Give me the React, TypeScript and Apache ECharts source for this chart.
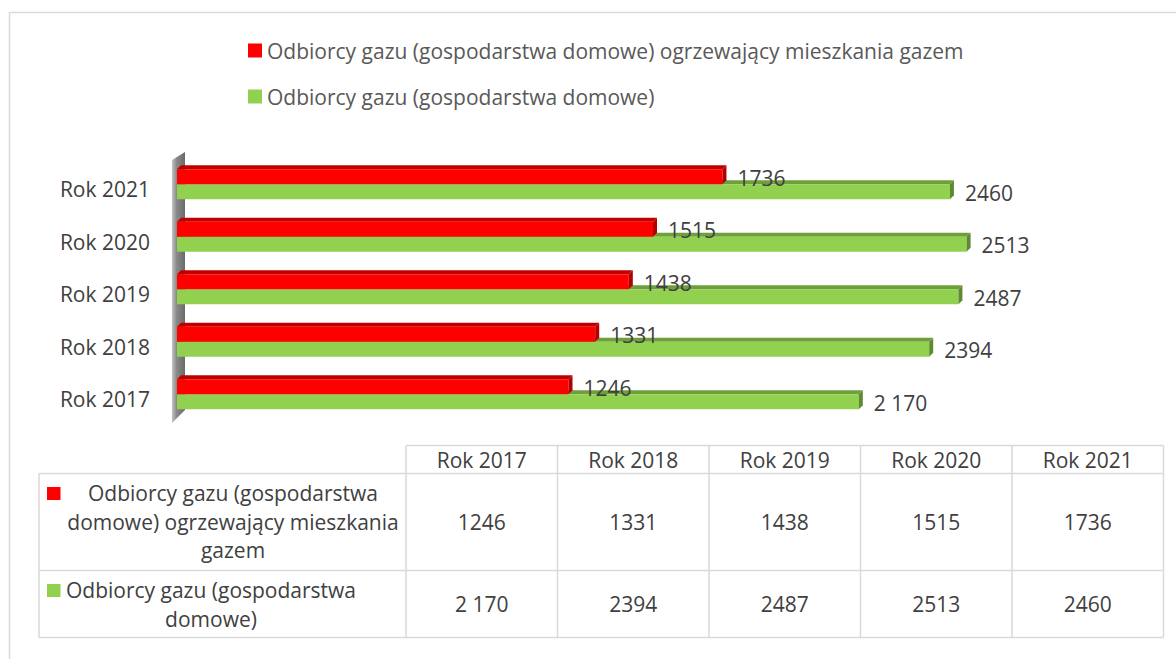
import { useEffect, useRef } from 'react';
import * as echarts from 'echarts';

const categories = ['Rok 2017', 'Rok 2018', 'Rok 2019', 'Rok 2020', 'Rok 2021'];
const heatingName = 'Odbiorcy gazu (gospodarstwa domowe) ogrzewający mieszkania gazem';
const householdName = 'Odbiorcy gazu (gospodarstwa domowe)';
const heatingValues = [1246, 1331, 1438, 1515, 1736];
const householdValues = [2170, 2394, 2487, 2513, 2460];
const heatingLabels = ['1246', '1331', '1438', '1515', '1736'];
const householdLabels = ['2 170', '2394', '2487', '2513', '2460'];
const heatingTableLines = ['Odbiorcy gazu (gospodarstwa', 'domowe) ogrzewający mieszkania', 'gazem'];
const householdTableLines = ['Odbiorcy gazu (gospodarstwa', 'domowe)'];

const FONT = '"Open Sans", "Noto Sans", sans-serif';
const FS = 21;
const TXT = '#404040';
const GRID_LINE = '#d9d9d9';

const RED = { front: '#ff0000', top: '#c00000', side: '#b20000' };
const GREEN = { front: '#92d050', top: '#6f9f3b', side: '#5f8a30' };

function makeRender(colors: any, labels: string[], offTop: number, offBottom: number) {
  return (params: any, api: any) => {
    const idx = api.value(1);
    const val = api.value(0);
    const start = api.coord([0, idx]);
    const end = api.coord([val, idx]);
    const c = end[1];
    const top = c + offTop;
    const bottom = c + offBottom;
    const x0 = start[0];
    const xe = end[0];
    const d = 4;
    return {
      type: 'group',
      children: [
        {
          type: 'polygon',
          shape: { points: [[x0, top], [x0 + d, top - d], [xe + d, top - d], [xe, top]] },
          style: { fill: colors.top },
        },
        {
          type: 'rect',
          shape: { x: x0, y: top, width: xe - x0, height: bottom - top },
          style: { fill: colors.front },
        },
        {
          type: 'polygon',
          shape: { points: [[xe, top], [xe + d, top - d], [xe + d, bottom - d], [xe, bottom]] },
          style: { fill: colors.side },
        },
        {
          type: 'text',
          x: xe + 15,
          y: (top + bottom) / 2 + 1,
          style: {
            text: labels[params.dataIndex],
            fill: TXT,
            fontSize: FS,
            fontFamily: FONT,
            align: 'left',
            verticalAlign: 'middle',
            textAlign: 'left',
            textVerticalAlign: 'middle',
          },
        },
      ],
    };
  };
}

function textEl(text: string, x: number, y: number, align = 'center', size = FS) {
  return {
    type: 'text',
    x,
    y,
    style: {
      text,
      fill: TXT,
      fontSize: size,
      fontFamily: FONT,
      align,
      verticalAlign: 'middle',
      textAlign: align,
      textVerticalAlign: 'middle',
    },
  };
}

function lineEl(x1: number, y1: number, x2: number, y2: number) {
  return {
    type: 'line',
    shape: { x1, y1, x2, y2 },
    style: { stroke: GRID_LINE, lineWidth: 1.5 },
  };
}

function buildTable() {
  const els: any[] = [];
  const colStart = 406;
  const colW = 151.5;
  const tableLeft = 39;
  const headTop = 445.5;
  const headBottom = 473.5;
  const row1Bottom = 570.5;
  const row2Bottom = 637.5;
  const tableRight = colStart + colW * categories.length;
  els.push(lineEl(colStart, headTop, tableRight, headTop));
  els.push(lineEl(tableLeft, headBottom, tableRight, headBottom));
  els.push(lineEl(tableLeft, row1Bottom, tableRight, row1Bottom));
  els.push(lineEl(tableLeft, row2Bottom, tableRight, row2Bottom));
  els.push(lineEl(tableLeft, headBottom, tableLeft, row2Bottom));
  for (let i = 0; i <= categories.length; i++) {
    const x = colStart + colW * i;
    els.push(lineEl(x, headTop, x, row2Bottom));
  }
  categories.forEach((cat, i) => {
    const cx = colStart + colW * (i + 0.5);
    els.push(textEl(cat, cx, (headTop + headBottom) / 2));
    els.push(textEl(heatingLabels[i], cx, (headBottom + row1Bottom) / 2));
    els.push(textEl(householdLabels[i], cx, (row1Bottom + row2Bottom) / 2));
  });
  els.push({ type: 'rect', shape: { x: 47, y: 487, width: 13.5, height: 13 }, style: { fill: RED.front } });
  els.push({ type: 'rect', shape: { x: 47, y: 584, width: 13.5, height: 13 }, style: { fill: GREEN.front } });
  const r1y = [493, 521.5, 550];
  heatingTableLines.forEach((t, i) => els.push(textEl(t, 233, r1y[i])));
  const r2y = [590, 619];
  householdTableLines.forEach((t, i) => els.push(textEl(t, 211, r2y[i])));
  return els;
}

export default function App() {
  const ref = useRef<HTMLDivElement>(null);
  useEffect(() => {
    if (!ref.current) return;
    const chart = echarts.init(ref.current, undefined, { renderer: 'svg' });
    const option: any = {
      animation: false,
      backgroundColor: '#ffffff',
      legend: {
        orient: 'vertical',
        left: 243,
        top: 33,
        itemWidth: 14,
        itemHeight: 14,
        itemGap: 21,
        icon: 'rect',
        textStyle: { fontSize: FS, fontFamily: FONT, color: '#595959', lineHeight: 25 },
        data: [heatingName, householdName],
        selectedMode: false,
      },
      grid: { left: 177, top: 163, height: 262.5, width: 942.6, containLabel: false },
      xAxis: { type: 'value', min: 0, max: 3000, show: false },
      yAxis: {
        type: 'category',
        data: categories,
        axisLine: { show: false },
        axisTick: { show: false },
        axisLabel: { color: TXT, fontSize: FS, fontFamily: FONT, margin: 27 },
      },
      series: [
        {
          name: householdName,
          type: 'custom',
          itemStyle: { color: GREEN.front },
          encode: { x: 0, y: 1 },
          data: householdValues.map((v, i) => [v, i]),
          renderItem: makeRender(GREEN, householdLabels, -5, 10),
          z: 3,
        },
        {
          name: heatingName,
          type: 'custom',
          itemStyle: { color: RED.front },
          encode: { x: 0, y: 1 },
          data: heatingValues.map((v, i) => [v, i]),
          renderItem: makeRender(RED, heatingLabels, -20, -5),
          z: 4,
        },
      ],
      graphic: {
        elements: [
          {
            type: 'rect',
            shape: { x: 9.5, y: 12.5, width: 1300, height: 800 },
            style: { fill: 'none', stroke: GRID_LINE, lineWidth: 1.5 },
            z: 0,
          },
          {
            type: 'polygon',
            shape: { points: [[172, 160], [185, 152], [185, 410], [172, 423]] },
            style: {
              fill: new echarts.graphic.LinearGradient(0, 0, 1, 0, [
                { offset: 0, color: '#c4c4c4' },
                { offset: 0.35, color: '#8a8a8a' },
                { offset: 1, color: '#6a6a6a' },
              ]),
            },
            z: 1,
          },
          ...buildTable(),
        ],
      },
    };
    chart.setOption(option);
    return () => chart.dispose();
  }, []);
  return (
    <div
      ref={ref}
      style={{ position: 'absolute', left: 0, top: 0, width: 1176, height: 659, background: '#fff' }}
    />
  );
}
